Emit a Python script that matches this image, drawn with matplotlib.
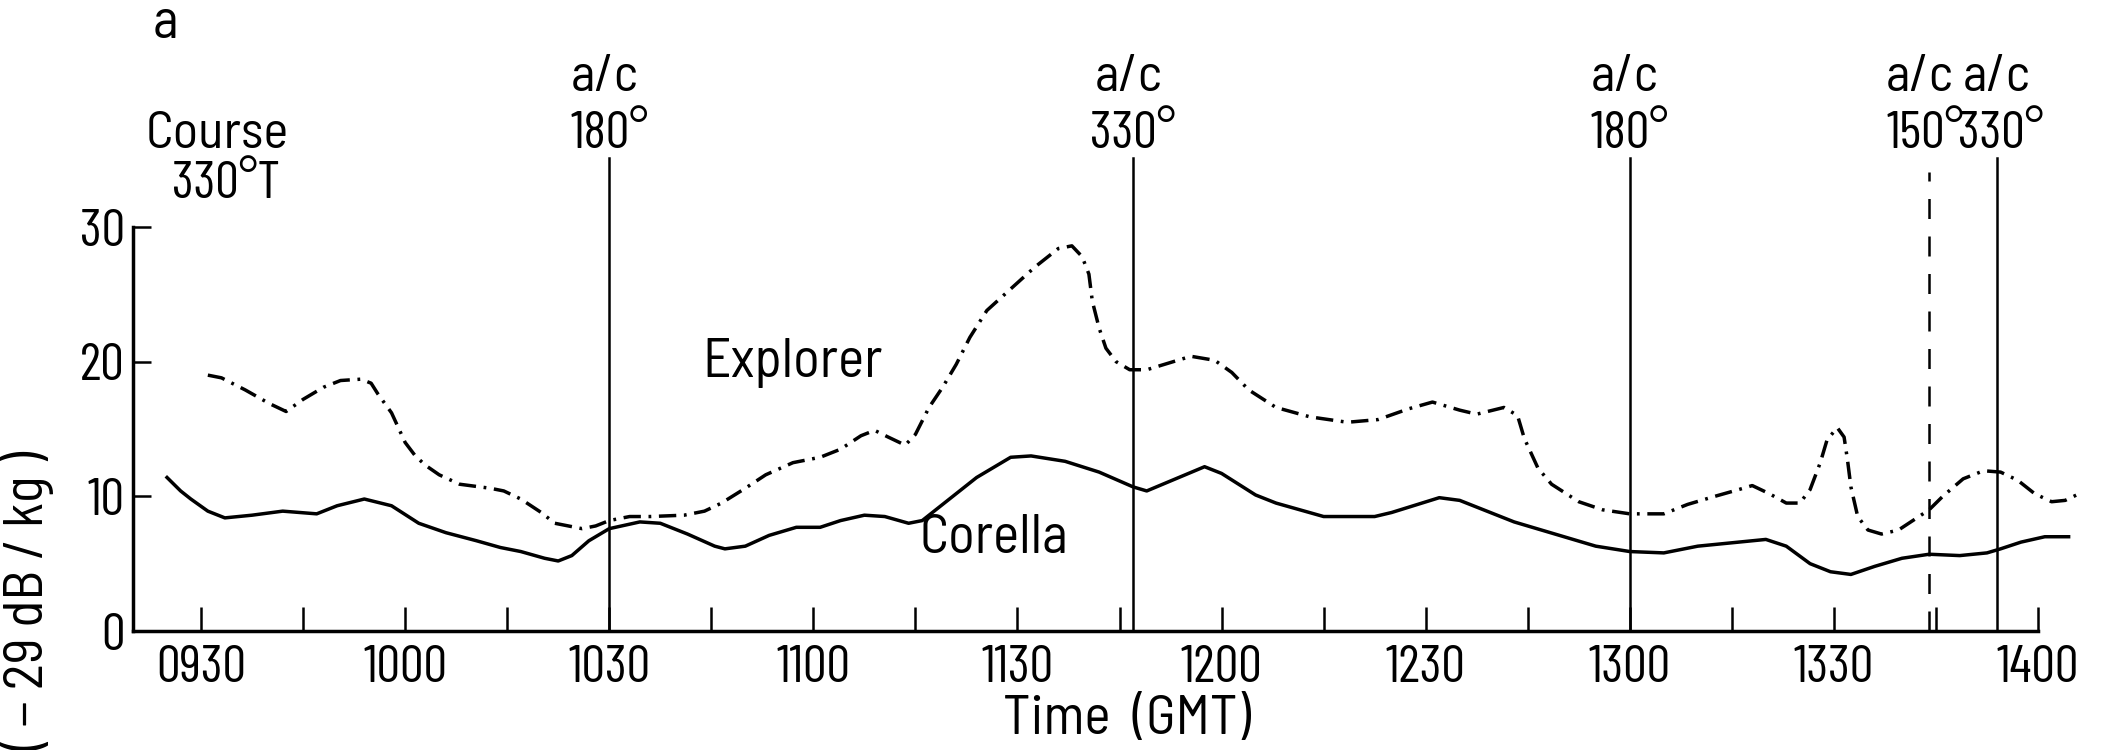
import matplotlib
matplotlib.use("Agg")
import matplotlib.pyplot as plt

# time axis in minutes after 09:00
explorer_t = [31, 33, 36.5, 40, 42.5, 45, 48, 50.5, 53.5, 55, 56, 58, 59, 60, 61.5, 63, 65, 68,
              72.5, 74.5, 77, 80, 82, 86, 88, 90, 93, 96, 101, 104, 106.5, 110, 113, 117, 121,
              124, 127, 129, 131, 133.5, 135, 137, 139, 141, 143, 145.5, 149, 152.5, 156, 158,
              159.5, 160.5, 161, 162, 163, 164.5, 166.5, 169, 175.5, 179, 181.5, 184, 188, 193,
              198.5, 203, 207.5, 211, 215, 217.5, 221.5, 223.5, 224.5, 226.5, 228.5, 232.5, 236,
              240, 245, 248.5, 252.5, 256, 258, 260.5, 263, 265, 266.5, 268, 269, 270.5, 271.5,
              272, 272.5, 273.5, 275, 277, 279.5, 282.5, 284, 286, 289, 292, 294.5, 297, 299.5,
              302, 304, 306.5]
explorer_v = [19.0, 18.8, 17.9, 16.9, 16.3, 17.2, 18.1, 18.6, 18.7, 18.4, 17.6, 16.2, 15.1, 14.0,
              13.0, 12.3, 11.6, 10.9, 10.6, 10.4, 9.8, 8.8, 8.0, 7.6, 7.8, 8.2, 8.5, 8.5, 8.6, 8.9,
              9.5, 10.6, 11.6, 12.5, 12.9, 13.5, 14.5, 14.9, 14.4, 13.8, 14.6, 16.6, 18.1, 19.8,
              21.8, 23.8, 25.4, 27.0, 28.4, 28.6, 27.8, 26.5, 24.5, 22.5, 21.0, 20.0, 19.4, 19.4,
              20.4, 20.1, 19.2, 17.9, 16.6, 15.9, 15.5, 15.7, 16.5, 17.0, 16.4, 16.1, 16.6, 16.0,
              14.3, 12.1, 10.9, 9.6, 9.0, 8.7, 8.7, 9.4, 10.0, 10.5, 10.8, 10.2, 9.5, 9.5, 10.5,
              12.5, 14.2, 15.1, 14.4, 12.7, 10.7, 8.5, 7.5, 7.2, 7.5, 8.5, 9.0, 10.0, 11.3, 11.9,
              11.8, 11.2, 10.2, 9.6, 9.7, 10.3]

corella_t = [25, 27, 28.5, 31, 33.5, 37.5, 42, 47, 50, 54, 58, 62, 66, 70.5, 74, 77, 80.5, 82.5,
             84.5, 87, 90, 94.5, 97.5, 101.5, 105.5, 107, 110, 113.5, 117.5, 121, 124, 127.5,
             130.5, 134, 136, 140, 144, 149, 152, 157, 162, 167, 169, 177.5, 180, 185, 188, 195,
             202.5, 205, 212, 215, 223, 229, 235, 240, 245, 250, 256, 260, 263, 266.5, 269.5,
             272.5, 276, 280, 284, 288.5, 292.5, 294.5, 297.5, 301, 304.5]
corella_v = [11.4, 10.4, 9.8, 8.9, 8.4, 8.6, 8.9, 8.7, 9.3, 9.8, 9.3, 8.0, 7.3, 6.7, 6.2, 5.9, 5.4,
             5.2, 5.6, 6.7, 7.6, 8.1, 8.0, 7.2, 6.3, 6.1, 6.3, 7.1, 7.7, 7.7, 8.2, 8.6, 8.5, 8.0,
             8.2, 9.8, 11.4, 12.9, 13.0, 12.6, 11.8, 10.7, 10.4, 12.2, 11.7, 10.1, 9.5, 8.5, 8.5,
             8.8, 9.9, 9.7, 8.1, 7.2, 6.3, 5.9, 5.8, 6.3, 6.6, 6.8, 6.3, 5.0, 4.4, 4.2, 4.8, 5.4,
             5.7, 5.6, 5.8, 6.1, 6.6, 7.0, 7.0]

# aircraft passes
ac_times = [90, 167, 240, 284, 294]
ac_heads = ['180°', '330°', '180°', '150°', '330°']
ac_dashed = [False, False, False, True, False]

tick_times = list(range(30, 301, 15))
label_times = list(range(30, 301, 30))
label_text = ['0930', '1000', '1030', '1100', '1130', '1200', '1230', '1300', '1330', '1400']

NUM = ['Barlow Condensed', 'DejaVu Sans']
WORD = ['Barlow Semi Condensed', 'Barlow Condensed', 'DejaVu Sans']
plt.rcParams['font.family'] = NUM
plt.rcParams['font.weight'] = 'normal'
fs = 38
fw = 40

W, H = 2106, 750
fig = plt.figure(figsize=(W / 100, H / 100), dpi=100)
ax = fig.add_axes([133 / W, 1 - 631 / H, (2038 - 133) / W, (631 - 227) / H])

ax.plot(explorer_t, explorer_v, color='black', lw=2.5, dashes=(5, 2.2, 0.8, 2.2), clip_on=False)
ax.plot(corella_t, corella_v, color='black', lw=2.5, clip_on=False)

nudge = [0, 0, 0, -0.6, 0.6]
for t, head, dashed, dx in zip(ac_times, ac_heads, ac_dashed, nudge):
    if dashed:
        ax.plot([t, t], [0, 34.1], color='black', lw=1.8, dashes=(8, 7), clip_on=False)
    else:
        ax.plot([t, t], [0, 35.1], color='black', lw=1.8, clip_on=False)
    ax.text(t - 0.7 + dx, 40.1, 'a/c', ha='center', va='baseline', fontsize=fw - 2, family=WORD)
    ax.text(t + dx, 35.9, head, ha='center', va='baseline', fontsize=fs)

ax.set_xlim(20, 300)
ax.set_ylim(0, 30)
for s in ['top', 'right']:
    ax.spines[s].set_visible(False)
for s in ['left', 'bottom']:
    ax.spines[s].set_linewidth(2.5)

ax.set_xticks(tick_times, minor=True)
ax.set_xticks(label_times)
ax.set_xticklabels(label_text)
ax.set_yticks([0, 10, 20, 30])
ax.tick_params(axis='x', which='both', direction='in', length=17, width=1.8, pad=10,
               labelsize=fs)
ax.tick_params(axis='y', direction='in', length=13, width=1.8, pad=6, labelsize=fs)
ax.yaxis.get_major_ticks()[0].tick1line.set_visible(False)

ax.text(117, 19.9, 'Explorer', ha='center', va='center', fontsize=fw, family=WORD)
ax.text(146.5, 6.8, 'Corella', ha='center', va='center', fontsize=fw, family=WORD)

fig.text(1127 / W, 1 - 734 / H, 'Time  (GMT)', ha='center', va='baseline', fontsize=fw,
         family=WORD)
fig.text(27 / W, 1 - 601 / H, '( − 29 dB / kg )', ha='center', va='center',
         rotation=90, fontsize=fw, family=WORD)
fig.text(165 / W, 1 - 38 / H, 'a', ha='center', va='baseline', fontsize=fw, family=WORD)
fig.text(217 / W, 1 - 148 / H, 'Course', ha='center', va='baseline', fontsize=fw - 2,
         family=WORD)
fig.text(226 / W, 1 - 198 / H, '330°T', ha='center', va='baseline', fontsize=fs)

fig.savefig('out.png', dpi=100)
